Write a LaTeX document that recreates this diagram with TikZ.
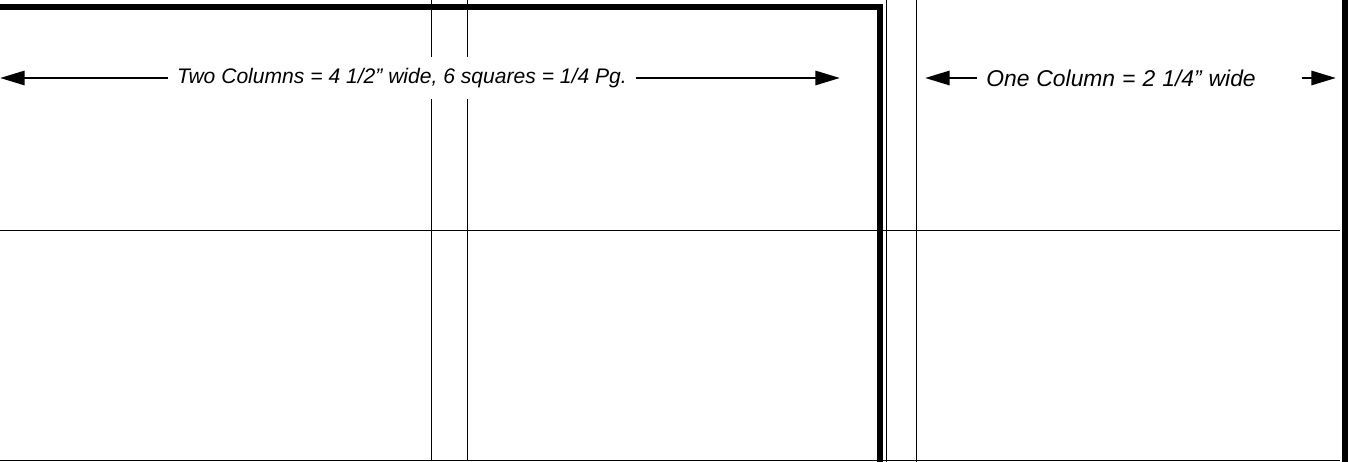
\documentclass[tikz,border=0pt]{standalone}
\usepackage{fontspec}
\setmainfont{Liberation Sans}
\usetikzlibrary{arrows.meta,positioning}
\tikzset{
  thickrule/.style={draw=black, line width=3.2pt},
  thinrule/.style={draw=black, line width=0.5pt},
  dimarrow/.style={draw=black, line width=1.6pt, -{Triangle[length=14pt,width=8pt]}},
  dimlabel/.style={fill=white, inner xsep=5pt, inner ysep=0pt, minimum height=24pt,
    font=\fontsize{12}{14}\selectfont\itshape}
}

\begin{document}
\begin{tikzpicture}[x=0.02cm, y=-0.02cm]
  \useasboundingbox (0,0) rectangle (1349,462);
  % column rules
  \foreach \x in {431,467}
    \draw[thinrule] (\x,0) -- (\x,460);
  \foreach \x in {886,916}
    \draw[thinrule] (\x,0) -- (\x,462);
  \draw[thinrule] (0,230) -- (1340,230);
  \draw[thinrule] (0,460) -- (1340,460);
  % heavy outline
  \draw[thickrule] (0,7) -- (880,7) -- (880,462);
  \draw[thickrule] (1345,0) -- (1345,462);
  % width labels
  \node[dimlabel] (two) at (402,78) {Two Columns = 4 1/2” wide, 6 squares = 1/4 Pg.};
  \node[dimlabel, font={\fontsize{13}{15}\selectfont\itshape\spaceskip 4pt\relax}]
    (one) at (1121,78) {One Column = 2 1/4” wide};
  \coordinate (twoL) at (0,78);
  \coordinate (twoR) at (840,78);
  \coordinate (oneL) at (925,78);
  \coordinate (oneS) at (1302,78);
  \coordinate (oneR) at (1336,78);
  \draw[dimarrow] (two) -- (twoL);
  \draw[dimarrow] (two) -- (twoR);
  \draw[dimarrow] (one) -- (oneL);
  \draw[dimarrow] (oneS) -- (oneR);
\end{tikzpicture}
\end{document}
